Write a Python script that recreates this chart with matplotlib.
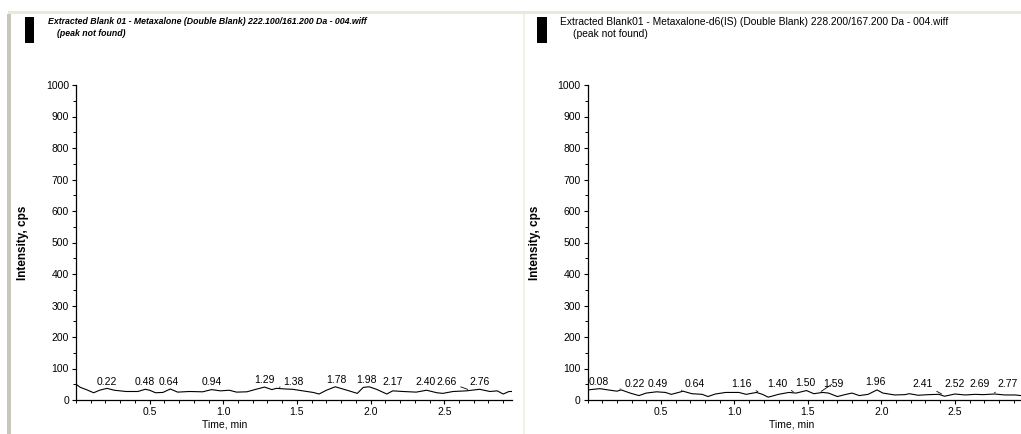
import numpy as np
import matplotlib

matplotlib.use("Agg")
import matplotlib.pyplot as plt
from matplotlib.patches import Rectangle
from matplotlib.ticker import MultipleLocator

W, H = 1021, 434

# left panel: Metaxalone trace (time min, intensity cps)
left_t = [0.00, 0.03, 0.07, 0.12, 0.16, 0.21, 0.26, 0.34, 0.42, 0.47, 0.50, 0.54,
          0.59, 0.64, 0.69, 0.77, 0.86, 0.92, 0.98, 1.04, 1.09, 1.16, 1.23, 1.28,
          1.33, 1.36, 1.42, 1.47, 1.54, 1.61, 1.65, 1.70, 1.76, 1.84, 1.91, 1.95,
          1.99, 2.04, 2.11, 2.15, 2.22, 2.31, 2.38, 2.45, 2.49, 2.56, 2.65, 2.74,
          2.81, 2.86, 2.90, 2.94, 2.96]
left_y = [50, 40, 33, 23, 31, 37, 31, 27, 27, 34, 31, 23,
          24, 35, 25, 27, 26, 33, 29, 31, 25, 26, 35, 41,
          33, 37, 35, 34, 29, 24, 19, 31, 42, 31, 21, 40,
          42, 34, 19, 29, 27, 25, 31, 23, 21, 27, 29, 34,
          27, 29, 19, 27, 27]
left_labels = ["0.22", "0.48", "0.64", "0.94", "1.29", "1.38", "1.78", "1.98",
               "2.17", "2.40", "2.66", "2.76"]
left_label_x = [0.208, 0.468, 0.626, 0.92, 1.282, 1.474, 1.77, 1.97,
                2.15, 2.37, 2.515, 2.74]
left_label_y = [58, 58, 58, 58, 63, 58, 63, 63, 58, 58, 58, 58]
left_leader = [False, False, False, False, False, True, False, False,
               False, False, True, False]

# right panel: Metaxalone-d6 (IS) trace
right_t = [0.00, 0.085, 0.14, 0.20, 0.23, 0.29, 0.35, 0.40, 0.47, 0.53, 0.57, 0.62,
           0.65, 0.71, 0.78, 0.82, 0.87, 0.94, 1.03, 1.08, 1.15, 1.19, 1.23, 1.30,
           1.37, 1.42, 1.49, 1.54, 1.60, 1.64, 1.70, 1.76, 1.80, 1.85, 1.91, 1.97,
           2.01, 2.09, 2.16, 2.19, 2.25, 2.32, 2.39, 2.43, 2.50, 2.57, 2.64, 2.69,
           2.77, 2.84, 2.91, 2.95]
right_y = [32, 36, 32, 28, 32, 22, 14, 22, 26, 24, 18, 24,
           28, 20, 18, 11, 19, 24, 24, 18, 24, 18, 9, 18,
           24, 22, 30, 20, 24, 22, 11, 18, 22, 14, 18, 32,
           22, 16, 17, 20, 15, 17, 18, 12, 19, 16, 18, 17,
           19, 16, 16, 14]
right_labels = ["0.08", "0.22", "0.49", "0.64", "1.16", "1.40", "1.50", "1.59",
                "1.96", "2.41", "2.52", "2.69", "2.77"]
right_peaks = [0.08, 0.22, 0.49, 0.64, 1.16, 1.40, 1.50, 1.59,
               1.96, 2.41, 2.52, 2.69, 2.77]
right_label_x = [0.074, 0.32, 0.48, 0.73, 1.05, 1.29, 1.48, 1.67,
                 1.96, 2.28, 2.50, 2.67, 2.86]
right_label_y = [56, 52, 52, 52, 52, 52, 55, 52, 56, 52, 52, 52, 52]
right_leader = [False, True, False, True, True, True, False, True,
                False, True, False, False, True]

left_title = "Extracted Blank 01 - Metaxalone (Double Blank) 222.100/161.200 Da - 004.wiff"
right_title = "Extracted Blank01 - Metaxalone-d6(IS) (Double Blank) 228.200/167.200 Da - 004.wiff"

FONT = ["Liberation Sans", "DejaVu Sans"]


def px(x, y):
    return x / W, 1 - y / H


def panel(fig, rect, t, y, xmax, labels, label_x, label_y, leader, peaks, xlab_x):
    ax = fig.add_axes(rect)
    ax.plot(t, y, color="black", lw=0.8)
    ax.set_xlim(0, xmax)
    ax.set_ylim(0, 1000)
    for s in ("top", "right"):
        ax.spines[s].set_visible(False)
    for s in ("left", "bottom"):
        ax.spines[s].set_linewidth(0.9)
    ax.xaxis.set_minor_locator(MultipleLocator(0.1))
    ax.yaxis.set_minor_locator(MultipleLocator(50))
    ax.set_xticks([0.5, 1.0, 1.5, 2.0, 2.5])
    ax.set_xticklabels(["0.5", "1.0", "1.5", "2.0", "2.5"], family=FONT)
    ax.set_yticks(range(0, 1001, 100))
    ax.set_yticklabels([str(v) for v in range(0, 1001, 100)], family=FONT)
    ax.tick_params(which="major", direction="out", length=3, width=0.8, labelsize=7.5, pad=2)
    ax.tick_params(which="minor", direction="out", length=2, width=0.7)
    ax.set_ylabel("Intensity, cps", fontsize=8.5, fontweight="bold", family=FONT, labelpad=12)
    ax.text(xlab_x, -0.079, "Time, min", transform=ax.transAxes, ha="center", va="center",
            fontsize=7.5, family=FONT)
    for lab, lx, ly, lead, pk in zip(labels, label_x, label_y, leader, peaks):
        if lead:
            py = np.interp(pk, t, y) + 4
            ax.annotate(lab, xy=(pk, py), xytext=(lx, ly), ha="center", va="center",
                        fontsize=7.5, family=FONT,
                        arrowprops=dict(arrowstyle="-", lw=0.6, color="black",
                                        shrinkA=1, shrinkB=0))
        else:
            ax.text(lx, ly, lab, ha="center", va="center", fontsize=7.5, family=FONT)
    return ax


fig = plt.figure(figsize=(W / 100, H / 100), dpi=100)
fig.patch.set_facecolor("white")

# window chrome
fig.add_artist(Rectangle(px(8, 14), 1013 / W, 3 / H, transform=fig.transFigure,
                         color="#ece9d8", lw=0))
fig.add_artist(Rectangle(px(7, 434), 4 / W, 420 / H, transform=fig.transFigure,
                         color="#c9c7bd", lw=0))
fig.add_artist(Rectangle(px(523, 434), 2 / W, 420 / H, transform=fig.transFigure,
                         color="#f2efe8", lw=0))
fig.add_artist(Rectangle(px(25, 43), 9 / W, 26 / H, transform=fig.transFigure,
                         color="black", lw=0))
fig.add_artist(Rectangle(px(537, 43), 10 / W, 26 / H, transform=fig.transFigure,
                         color="black", lw=0))

fig.text(*px(48, 22), left_title, fontsize=6.3, fontweight="bold", style="italic",
         family=FONT, va="center", ha="left")
fig.text(*px(57, 34), "(peak not found)", fontsize=6.3, fontweight="bold", style="italic",
         family=FONT, va="center", ha="left")
fig.text(*px(560, 22), right_title, fontsize=7.4, family=FONT, va="center", ha="left")
fig.text(*px(573, 34), "(peak not found)", fontsize=7.4, family=FONT, va="center", ha="left")

left_peaks = [float(s) for s in left_labels]
panel(fig, [76 / W, 1 - 400 / H, 436 / W, 315 / H], left_t, left_y, 2.96,
      left_labels, left_label_x, left_label_y, left_leader, left_peaks, 0.34)
panel(fig, [587.5 / W, 1 - 400 / H, 433.5 / W, 315 / H], right_t, right_y, 2.95,
      right_labels, right_label_x, right_label_y, right_leader, right_peaks, 0.47)

fig.savefig("out.png", dpi=100)
